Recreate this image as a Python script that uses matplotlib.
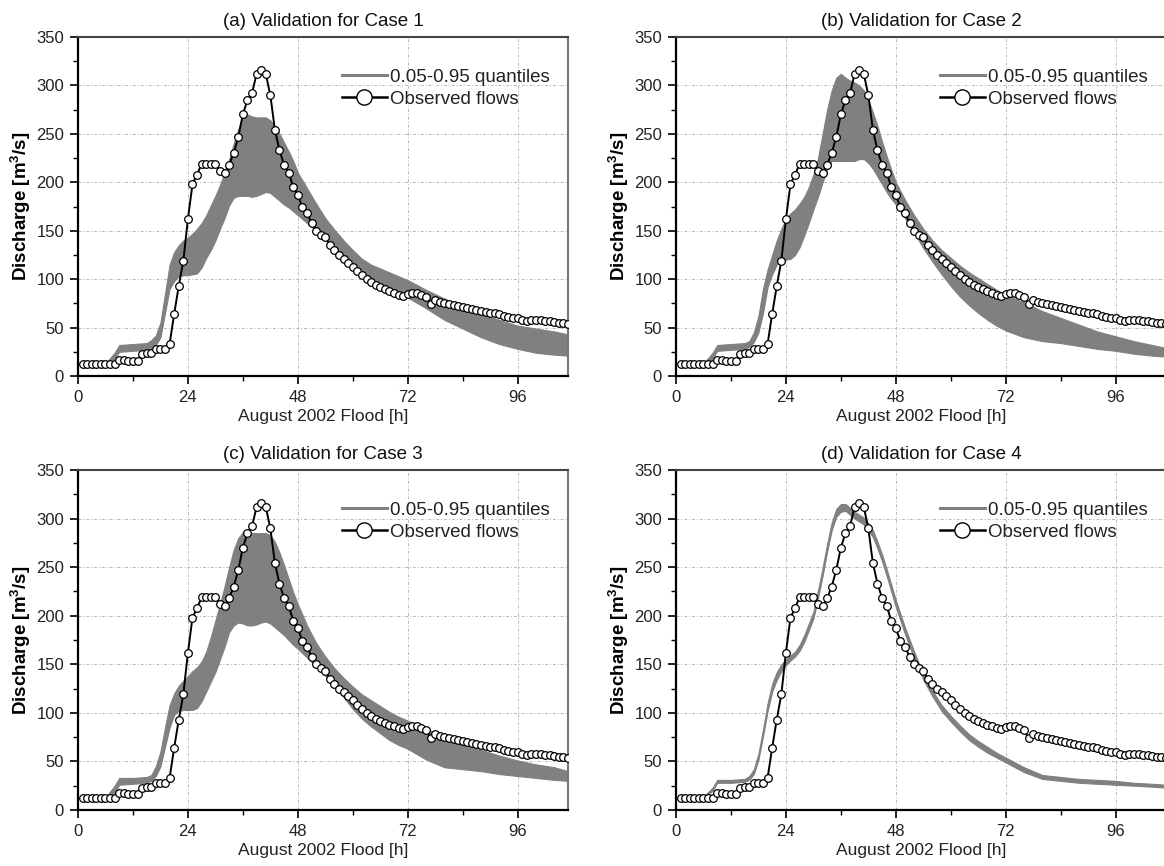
import numpy as np
import matplotlib
matplotlib.use('Agg')
import matplotlib.pyplot as plt
from matplotlib.ticker import MultipleLocator
from matplotlib.lines import Line2D

plt.rcParams['font.family'] = ['Liberation Sans', 'DejaVu Sans']
plt.rcParams['mathtext.default'] = 'regular'

# observed hourly flows, hour 1..107
obs_hours = list(range(1, 108))
obs_flow = [12, 12, 12, 12, 12, 12, 12, 12, 17, 17,
            16, 16, 16, 23, 24, 24, 28, 28, 28, 33,
            64, 93, 119, 162, 198, 208, 219, 219, 219, 219,
            212, 210, 218, 230, 247, 270, 285, 292, 312, 316,
            312, 290, 254, 233, 218, 210, 195, 187, 174, 168,
            158, 150, 146, 143, 135, 130, 125, 121, 117, 113,
            108, 104, 100, 97, 94, 92, 90, 88, 86, 84,
            83, 85, 86, 86, 84, 82, 74, 78, 76, 75,
            74, 73, 72, 71, 70, 69, 68, 67, 66, 65,
            65, 64, 62, 61, 60, 60, 58, 57, 58, 58,
            58, 57, 57, 56, 55, 55, 54]

# 0.05-0.95 quantile band edges, read at these hours
band_hours = [6, 8, 9, 12, 15, 16, 17, 18, 19, 20, 21, 22, 23, 24, 25, 26, 27, 28, 29,
              30, 31, 32, 33, 34, 35, 36, 37, 38, 39, 40, 41, 42, 43, 44, 45, 46, 47,
              48, 50, 52, 54, 56, 58, 60, 62, 64, 66, 68, 70, 72, 76, 80, 84, 88, 92,
              96, 100, 104, 107]

case1_hi = [13, 24, 32, 33, 34, 37, 42, 55, 85, 115, 128, 135, 140, 143, 147, 152, 158, 166, 176,
            186, 197, 210, 224, 240, 255, 266, 270, 268, 267, 267, 267, 264, 258, 250, 241, 232, 222,
            210, 194, 178, 163, 151, 140, 130, 121, 115, 111, 107, 103, 99, 89, 80, 71, 64, 58,
            52, 49, 46, 43]
case1_lo = [12, 18, 25, 26, 27, 29, 32, 40, 65, 90, 98, 103, 104, 104, 105, 106, 112, 122, 130,
            140, 152, 163, 176, 184, 186, 186, 186, 185, 186, 188, 190, 189, 185, 181, 177, 174, 170,
            166, 158, 150, 142, 134, 126, 118, 109, 102, 96, 90, 85, 81, 70, 58, 49, 40, 33,
            28, 24, 22, 21]

case2_hi = [13, 24, 32, 33, 34, 36, 45, 62, 90, 110, 125, 140, 152, 162, 168, 172, 178, 185, 195,
            208, 225, 250, 275, 295, 308, 312, 308, 305, 303, 300, 295, 285, 272, 258, 242, 227, 213,
            200, 182, 166, 152, 140, 130, 122, 114, 107, 101, 95, 89, 84, 76, 67, 60, 53, 46,
            41, 36, 32, 29]
case2_lo = [12, 18, 26, 27, 28, 30, 35, 45, 65, 92, 105, 115, 120, 120, 121, 125, 133, 145, 158,
            172, 185, 200, 213, 222, 222, 222, 222, 222, 222, 224, 224, 220, 214, 206, 198, 190, 183,
            177, 163, 148, 132, 118, 105, 93, 82, 73, 65, 58, 52, 47, 40, 36, 34, 31, 28,
            26, 23, 21, 20]

case3_hi = [13, 25, 33, 33, 34, 36, 45, 60, 85, 108, 120, 128, 133, 138, 143, 147, 153, 163, 178,
            195, 212, 230, 250, 268, 280, 286, 286, 285, 285, 285, 285, 283, 276, 265, 252, 238, 224,
            212, 190, 172, 158, 146, 136, 127, 119, 113, 107, 101, 96, 92, 84, 75, 69, 62, 56,
            51, 47, 44, 40]
case3_lo = [12, 18, 26, 27, 28, 30, 35, 45, 65, 85, 98, 102, 103, 103, 103, 105, 112, 122, 132,
            142, 155, 168, 183, 190, 193, 192, 190, 190, 191, 193, 194, 192, 188, 184, 180, 175, 170,
            166, 157, 148, 138, 127, 116, 104, 94, 86, 79, 72, 67, 63, 52, 44, 42, 40, 37,
            35, 33, 31, 30]

case4_hi = [14, 23, 31, 31, 32, 35, 42, 58, 83, 110, 130, 142, 150, 155, 159, 163, 170, 180, 192,
            204, 226, 249, 274, 296, 310, 315, 315, 311, 307, 304, 301, 295, 288, 276, 263, 248, 232,
            216, 188, 163, 140, 123, 108, 97, 87, 78, 71, 65, 59, 54, 44, 36, 34, 32, 31,
            30, 28, 27, 26]
case4_lo = [12, 20, 28, 28, 29, 31, 37, 52, 76, 102, 122, 134, 143, 149, 154, 158, 164, 173, 185,
            197, 218, 241, 266, 288, 302, 307, 308, 304, 300, 297, 294, 288, 281, 269, 256, 241, 225,
            209, 181, 156, 134, 117, 102, 91, 81, 72, 65, 59, 54, 49, 39, 32, 30, 28, 27,
            26, 25, 24, 23]

titles = ['(a) Validation for Case 1', '(b) Validation for Case 2',
          '(c) Validation for Case 3', '(d) Validation for Case 4']
bands = [(case1_lo, case1_hi), (case2_lo, case2_hi), (case3_lo, case3_hi), (case4_lo, case4_hi)]

fig = plt.figure(figsize=(11.64, 8.66), dpi=100)
W, H = 1164, 866
# axes boxes in pixels: left, top, right, bottom (right column runs past the image edge)
boxes = [(78, 37, 568, 376), (676, 37, 1166, 376),
         (78, 470, 568, 810), (676, 470, 1166, 810)]

band_color = '#808080'
text_color = '#222222'

for i, (l, t, r, b) in enumerate(boxes):
    ax = fig.add_axes([l / W, 1 - b / H, (r - l) / W, (b - t) / H])
    lo, hi = bands[i]
    ax.fill_between(band_hours, lo, hi, color=band_color, lw=0.8, edgecolor=band_color, zorder=2)
    ax.plot(obs_hours, obs_flow, color='black', lw=1.4, marker='o', ms=5.5,
            mfc='white', mec='black', mew=0.9, zorder=3)

    ax.set_xlim(0, 107)
    ax.set_ylim(0, 350)
    ax.xaxis.set_major_locator(MultipleLocator(24))
    ax.xaxis.set_minor_locator(MultipleLocator(12))
    ax.yaxis.set_major_locator(MultipleLocator(50))
    ax.yaxis.set_minor_locator(MultipleLocator(25))
    ax.tick_params(which='major', direction='out', length=6, width=1.2, labelsize=12,
                   labelcolor=text_color, pad=4)
    ax.tick_params(which='minor', direction='out', length=3.5, width=1.0)
    ax.tick_params(top=False, right=False)
    ax.grid(True, which='major', color='#b8b8b8', linestyle=(0, (3, 2, 1, 2)), lw=0.7, zorder=0)
    ax.set_axisbelow(True)

    ax.spines['left'].set_linewidth(1.6)
    ax.spines['bottom'].set_linewidth(1.6)
    ax.spines['top'].set_color('#444444')
    ax.spines['top'].set_linewidth(1.5)
    ax.spines['right'].set_color('#777777')
    ax.spines['right'].set_linewidth(1.5)

    ax.set_title(titles[i], fontsize=13.5, pad=8, color='#111111')
    ax.set_xlabel('August 2002 Flood [h]', fontsize=12.5, labelpad=3, color=text_color)
    ax.set_ylabel('Discharge [m$^3$/s]', fontsize=13.5, fontweight='bold', labelpad=2)

    h1 = Line2D([], [], color=band_color, lw=2.2)
    h2 = Line2D([], [], color='black', lw=1.8, marker='o', ms=11, mfc='white', mec='black', mew=1)
    leg = ax.legend([h1, h2], ['0.05-0.95 quantiles', 'Observed flows'], loc='upper right',
                    bbox_to_anchor=(0.985, 0.94), frameon=False,
                    fontsize=13.5, handlelength=2.4, handletextpad=0.15, labelspacing=0.25,
                    borderaxespad=0.2)
    for txt in leg.get_texts():
        txt.set_color(text_color)

fig.savefig('out.png', dpi=100)
